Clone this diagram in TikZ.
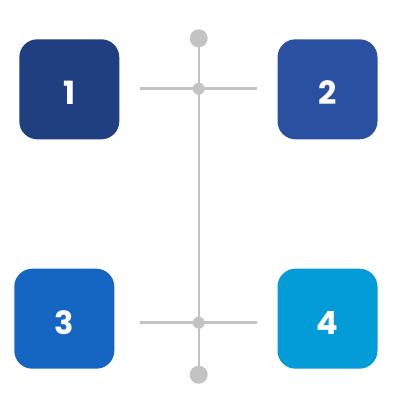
\documentclass[tikz,border=0pt]{standalone}
\usepackage{fontspec}
\setmainfont{Poppins}
\definecolor{cA}{HTML}{203F80}
\definecolor{cB}{HTML}{2A50A2}
\definecolor{cC}{HTML}{1466C2}
\definecolor{cD}{HTML}{039CD9}
\definecolor{gr}{HTML}{C3C3C3}
\newcommand{\boxnum}[1]{\raisebox{-15.5pt}[0pt][0pt]{#1}}
\tikzset{
  box/.style={rectangle, rounded corners=18pt, minimum width=100pt, minimum height=100pt, inner sep=0pt, text=white, font=\fontsize{32}{32}\selectfont\bfseries},
  bigdot/.style={circle, fill=gr, minimum size=18pt, inner sep=0pt},
  smalldot/.style={circle, fill=gr, minimum size=12pt, inner sep=0pt},
  gline/.style={draw=gr, line width=2.4pt}
}
\begin{document}
\begin{tikzpicture}[x=1pt,y=1pt]
\useasboundingbox (0,0) rectangle (400,400);
\node[box, fill=cA] (b1) at (69.3,310.7) {\boxnum{1}};
\node[box, fill=cB] (b2) at (327.5,310.7) {\boxnum{2}};
\node[box, fill=cC] (b3) at (64.3,81.3) {\boxnum{3}};
\node[box, fill=cD] (b4) at (327.5,81.3) {\boxnum{4}};
\coordinate (l1) at (140.3,311.3);
\coordinate (r1) at (257.3,311.3);
\coordinate (l2) at (140.3,77.3);
\coordinate (r2) at (257.3,77.3);
\draw[gline] (l1) -- (r1);
\draw[gline] (l2) -- (r2);
\node[bigdot] (top) at (198.7,361.7) {};
\node[bigdot] (bot) at (198.7,25.3) {};
\draw[gline] (top.center) -- (bot.center);
\node[smalldot] (m1) at (198.7,311.3) {};
\node[smalldot] (m2) at (198.7,77.3) {};
\end{tikzpicture}
\end{document}
